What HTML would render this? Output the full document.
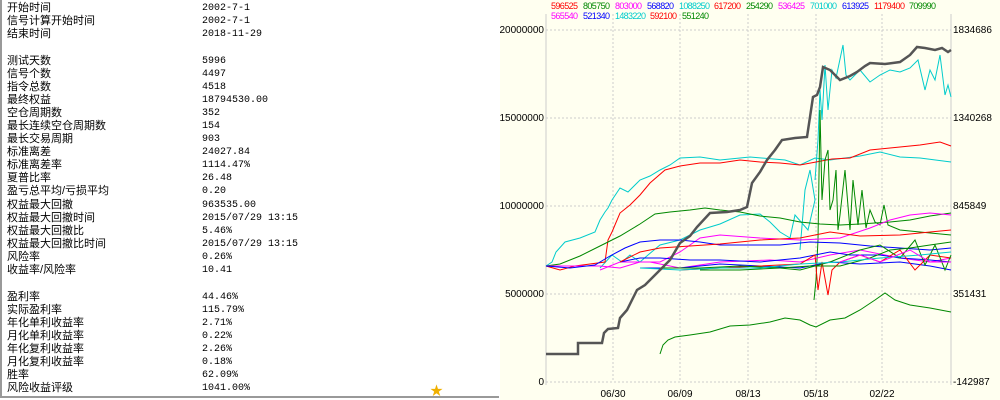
<!DOCTYPE html>
<html><head><meta charset="utf-8"><style>
body{margin:0;width:1000px;height:400px;overflow:hidden;position:relative;font-family:"Liberation Sans","Noto Sans CJK SC",sans-serif;}
#left{position:absolute;left:0;top:0;width:499px;height:398px;background:#fff;border-left:2px solid #999;border-bottom:2px solid #999;box-sizing:border-box;}
.r{position:absolute;left:5px;font-size:11px;color:#000;line-height:13px;white-space:nowrap;}
.r span{position:absolute;left:195px;font-family:"Liberation Mono",monospace;font-size:10px;}
#chart{position:absolute;left:500px;top:0;width:500px;height:400px;background:#fffff0;}
</style></head><body>
<div id="left">
<div class="r" style="top:2px">开始时间<span>2002-7-1</span></div>
<div class="r" style="top:15px">信号计算开始时间<span>2002-7-1</span></div>
<div class="r" style="top:28px">结束时间<span>2018-11-29</span></div>
<div class="r" style="top:55px">测试天数<span>5996</span></div>
<div class="r" style="top:68px">信号个数<span>4497</span></div>
<div class="r" style="top:81px">指令总数<span>4518</span></div>
<div class="r" style="top:94px">最终权益<span>18794530.00</span></div>
<div class="r" style="top:107px">空仓周期数<span>352</span></div>
<div class="r" style="top:120px">最长连续空仓周期数<span>154</span></div>
<div class="r" style="top:133px">最长交易周期<span>903</span></div>
<div class="r" style="top:146px">标准离差<span>24027.84</span></div>
<div class="r" style="top:159px">标准离差率<span>1114.47%</span></div>
<div class="r" style="top:172px">夏普比率<span>26.48</span></div>
<div class="r" style="top:185px">盈亏总平均/亏损平均<span>0.20</span></div>
<div class="r" style="top:199px">权益最大回撤<span>963535.00</span></div>
<div class="r" style="top:212px">权益最大回撤时间<span>2015/07/29 13:15</span></div>
<div class="r" style="top:225px">权益最大回撤比<span>5.46%</span></div>
<div class="r" style="top:238px">权益最大回撤比时间<span>2015/07/29 13:15</span></div>
<div class="r" style="top:251px">风险率<span>0.26%</span></div>
<div class="r" style="top:264px">收益率/风险率<span>10.41</span></div>
<div class="r" style="top:291px">盈利率<span>44.46%</span></div>
<div class="r" style="top:304px">实际盈利率<span>115.79%</span></div>
<div class="r" style="top:317px">年化单利收益率<span>2.71%</span></div>
<div class="r" style="top:330px">月化单利收益率<span>0.22%</span></div>
<div class="r" style="top:343px">年化复利收益率<span>2.26%</span></div>
<div class="r" style="top:356px">月化复利收益率<span>0.18%</span></div>
<div class="r" style="top:369px">胜率<span>62.09%</span></div>
<div class="r" style="top:382px">风险收益评级<span>1041.00%</span></div>
<div style="position:absolute;left:428px;top:380px;color:#f0b000;font-size:13px;">★</div>
</div>
<div id="chart"></div>
<svg style="position:absolute;left:0;top:0" width="1000" height="400" font-family="Liberation Sans,sans-serif" font-size="10">
<g stroke="#ccc" stroke-dasharray="2,2">
<line x1="546" y1="30" x2="951" y2="30"/><line x1="546" y1="118" x2="951" y2="118"/><line x1="546" y1="206" x2="951" y2="206"/><line x1="546" y1="294" x2="951" y2="294"/><line x1="546" y1="382" x2="951" y2="382"/>
<line x1="613" y1="14" x2="613" y2="382"/><line x1="680" y1="14" x2="680" y2="382"/><line x1="748" y1="14" x2="748" y2="382"/><line x1="816" y1="14" x2="816" y2="382"/><line x1="882" y1="14" x2="882" y2="382"/>
</g>
<g stroke="#ccc"><line x1="546" y1="14" x2="546" y2="385"/><line x1="951" y1="14" x2="951" y2="385"/></g>
<g fill="#000" text-anchor="end"><text x="544" y="33">20000000</text><text x="544" y="121">15000000</text><text x="544" y="209">10000000</text><text x="544" y="297">5000000</text><text x="544" y="385">0</text></g>
<g fill="#000"><text x="953" y="33">1834686</text><text x="953" y="121">1340268</text><text x="953" y="209">845849</text><text x="953" y="297">351431</text><text x="953" y="385">-142987</text></g>
<g fill="#000" text-anchor="middle"><text x="613" y="397">06/30</text><text x="680" y="397">06/09</text><text x="748" y="397">08/13</text><text x="816" y="397">05/18</text><text x="882" y="397">02/22</text></g>
<g font-size="9" lengthAdjust="spacingAndGlyphs">
<text x="551" y="9" fill="#f00" textLength="27">596525</text><text x="583" y="9" fill="#080" textLength="27">805750</text><text x="615" y="9" fill="#f0f" textLength="27">803000</text><text x="647" y="9" fill="#00f" textLength="27">568820</text><text x="679" y="9" fill="#0cc" textLength="31">1088250</text><text x="714" y="9" fill="#f00" textLength="27">617200</text><text x="746" y="9" fill="#080" textLength="27">254290</text><text x="778" y="9" fill="#f0f" textLength="27">536425</text><text x="810" y="9" fill="#0cc" textLength="27">701000</text><text x="842" y="9" fill="#00f" textLength="27">613925</text><text x="874" y="9" fill="#f00" textLength="31">1179400</text><text x="909" y="9" fill="#080" textLength="27">709990</text>
<text x="551" y="19" fill="#f0f" textLength="27">565540</text><text x="583" y="19" fill="#00f" textLength="27">521340</text><text x="615" y="19" fill="#0cc" textLength="31">1483220</text><text x="650" y="19" fill="#f00" textLength="27">592100</text><text x="682" y="19" fill="#080" textLength="27">551240</text>
</g>
<g fill="none" stroke-width="1">
<polyline stroke="#0cc" points="546,266 552,262 556,252 565,242 580,238 595,232 600,220 605,212 608,208 612,200 620,188 628,192 640,180 650,176 660,170 670,165 680,158 700,157 720,160 750,157 785,160 800,165 815,158 830,160 860,156 880,152 900,157 920,158 951,162"/>
<polyline stroke="#0cc" points="815,180 818,140 820,90 822,120 825,65 828,110 832,70 836,78 843,45 846,75 850,80 860,70 870,82 880,75 890,70 900,72 910,68 918,60 925,90 930,70 935,80 940,55 945,95 948,85 951,97"/>
<polyline stroke="#0cc" points="800,250 805,190 810,170 815,200 808,230 795,215 790,238 780,232 770,222 760,214 740,215 720,224 700,230 680,240 660,245 648,255 640,262 630,255 622,262 612,255 600,268"/>
<polyline stroke="#f00" points="546,266 560,270 575,266 605,262 608,240 612,232 620,213 630,205 640,195 650,183 665,170 680,166 700,163 720,163 740,160 760,162 780,163 800,165 832,159 850,158 870,150 890,148 900,147 920,145 940,142 951,146"/>
<polyline stroke="#080" points="546,266 560,264 580,256 600,246 620,236 640,224 655,214 670,212 690,210 705,208 720,210 740,212 760,216 780,218 800,222 820,224 840,225 860,224 890,222 910,220 930,216 951,213"/>
<polyline stroke="#080" points="814,300 816,280 818,240 820,110 822,200 825,160 828,150 830,210 833,200 836,170 838,230 840,215 845,170 850,230 853,180 858,225 862,190 866,228 870,210 875,222 880,225 884,205 888,225 900,230 920,232 951,235"/>
<polyline stroke="#f0f" points="546,266 570,266 600,266 620,268 640,262 660,262 680,252 700,238 720,235 760,238 800,240 840,238 870,228 890,220 910,215 930,213 951,215"/>
<polyline stroke="#f0f" points="600,270 620,262 650,262 680,268 720,262 770,260 800,262 830,255 860,250 900,258 930,262 951,258"/>
<polyline stroke="#00f" points="546,266 570,268 595,265 610,256 625,248 640,242 660,240 680,240 700,242 720,245 750,245 780,245 810,242 840,243 870,246 900,248 930,250 951,248"/>
<polyline stroke="#00f" points="620,262 640,258 660,258 690,260 720,260 760,262 800,258 830,252 850,255 880,255 900,258 930,260 951,262"/>
<polyline stroke="#00f" points="640,268 680,268 720,264 760,266 800,268 830,262 860,264 900,262 930,266 951,270"/>
<polyline stroke="#f00" points="620,262 640,252 660,248 690,246 720,244 760,240 800,238 830,232 860,236 900,235 930,232 951,230"/>
<polyline stroke="#f00" points="680,270 720,268 760,266 800,264 815,255 818,290 822,262 828,295 832,270 840,262 860,255 880,262 900,250 915,270 930,255 951,258"/>
<polyline stroke="#080" points="660,268 700,268 740,266 780,268 800,270 830,262 860,250 880,245 900,258 915,240 925,265 935,245 945,270 951,255"/>
<polyline stroke="#080" points="700,270 740,270 780,268 810,266 840,266 870,258 890,250 910,248 930,245 951,242"/>
<polyline stroke="#0cc" points="640,268 680,270 720,268 760,268 800,264 840,262 880,258 920,255 951,252"/>
<polyline stroke="#f0f" points="840,262 860,255 880,262 910,250 930,262 951,262"/>
<polyline stroke="#080" points="660,354 663,345 668,340 675,337 690,335 710,332 730,326 750,325 770,322 785,318 800,320 810,325 816,327 830,320 845,318 860,310 875,300 885,293 895,300 910,305 930,308 951,312"/>
</g>
<polyline fill="none" stroke="#555" stroke-width="2.5" points="546,354 578,354 578,343 602,343 604,333 608,329 618,328 620,318 627,310 632,300 637,290 645,285 653,277 660,270 670,260 680,243 690,236 697,227 710,213 727,212 740,210 747,207 752,183 760,172 767,160 775,150 782,140 795,138 807,137 810,117 813,97 817,95 820,87 823,67 830,70 840,80 850,76 857,72 865,66 870,63 885,64 900,62 910,55 917,47 925,48 935,50 942,48 948,52 951,50"/>
</svg>
</body></html>
